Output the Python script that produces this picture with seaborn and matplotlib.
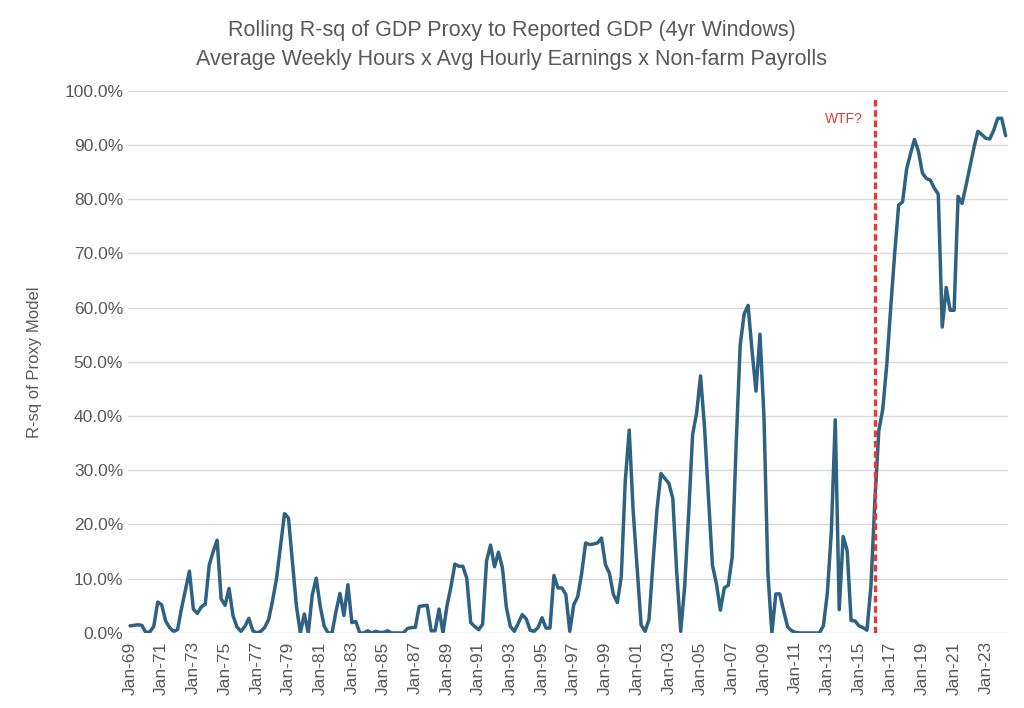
import numpy as np
import pandas as pd
import matplotlib
matplotlib.use("Agg")
import matplotlib.pyplot as plt
import seaborn as sns
from matplotlib.ticker import FuncFormatter

# ---- data: rolling R-sq (%) per quarter, Q1 1969 .. Q2 2024 ----
quarters = pd.date_range("1969-01-01", "2024-04-01", freq="QS")
rsq = [
    1.3, 1.4, 1.5, 1.4, 0.1, 0.2, 1.2, 5.7, 5.2, 2.2,   # 1969-71
    1.0, 0.3, 0.6, 4.5, 8.0, 11.4, 4.4, 3.6, 4.8, 5.3,  # 1971-73
    12.5, 15.0, 17.1, 6.3, 5.1, 8.2, 3.2, 1.1, 0.3, 1.2,
    2.7, 0.4, 0.0, 0.3, 1.0, 2.5, 6.0, 10.1, 16.0, 22.0,
    21.2, 13.0, 5.0, 0.0, 3.5, 0.0, 7.0, 10.1, 5.0, 1.3,
    0.0, 0.0, 4.0, 7.3, 3.2, 8.9, 1.9, 2.1, 0.0, 0.0,
    0.4, 0.0, 0.3, 0.1, 0.1, 0.4, 0.0, 0.0, 0.0, 0.0,
    0.8, 1.0, 1.0, 4.9, 5.0, 5.1, 0.4, 0.4, 4.4, 0.0,
    5.0, 8.5, 12.7, 12.3, 12.3, 10.1, 1.9, 1.2, 0.6, 1.6,
    13.3, 16.2, 12.2, 14.9, 12.0, 4.7, 1.2, 0.3, 1.8, 3.4,
    2.6, 0.5, 0.3, 1.0, 2.8, 0.9, 0.9, 10.6, 8.3, 8.3,
    7.1, 0.3, 5.2, 6.7, 11.0, 16.6, 16.3, 16.4, 16.6, 17.5,
    12.6, 11.0, 7.1, 5.6, 10.4, 28.0, 37.4, 22.4, 12.0, 1.5,
    0.3, 2.5, 13.0, 22.7, 29.4, 28.5, 27.6, 24.8, 11.0, 0.3,
    8.6, 22.0, 36.6, 40.5, 47.4, 38.0, 25.0, 12.5, 9.1, 4.2,
    8.3, 8.8, 14.1, 35.0, 53.0, 58.8, 60.4, 52.0, 44.6, 55.1,
    40.0, 11.0, 0.0, 7.2, 7.2, 4.0, 1.1, 0.4, 0.1, 0.0,
    0.0, 0.0, 0.0, 0.0, 0.0, 1.3, 7.3, 18.5, 39.3, 4.3,
    17.8, 15.2, 2.3, 2.2, 1.3, 1.0, 0.5, 8.6, 24.4, 37.3,
    41.3, 49.5, 60.0, 70.0, 78.9, 79.5, 85.5, 88.4, 91.0, 88.8,
    84.8, 83.8, 83.5, 82.0, 80.9, 56.4, 63.7, 59.5, 59.5, 80.5,
    79.2, 82.5, 86.0, 89.5, 92.5, 91.9, 91.2, 91.1, 92.7, 94.9,
    94.9, 91.7,
]
tick_labels = [d.strftime("%b-%y") for d in quarters]
marker_label = "Jan-16"

df = pd.DataFrame({"pos": np.arange(len(rsq)), "rsq": rsq, "label": tick_labels})

# ---- plot ----
sns.set_style("white")
plt.rcParams["font.family"] = ["Liberation Sans", "DejaVu Sans"]
grey = "#595959"

fig = plt.figure(figsize=(10.24, 7.08), dpi=100)
ax = fig.add_axes([0.125, 0.106, 0.859, 0.766])

sns.lineplot(data=df, x="pos", y="rsq", color="#2E6282", linewidth=2.5, ax=ax)

vpos = df.loc[df["label"] == marker_label, "pos"].iloc[0]
ax.axvline(vpos, ymin=0, ymax=0.99, color="#E53935", linestyle=(0, (2.0, 1.1)), linewidth=2.4)
ax.text(vpos - 3, 94.8, "WTF?", color="#E53935", fontsize=10, ha="right", va="center")

ax.set_ylim(0, 100)
ax.set_xlim(-0.5, len(rsq) - 0.5)
ax.set_yticks(np.arange(0, 101, 10))
ax.yaxis.set_major_formatter(FuncFormatter(lambda v, _: f"{v:.1f}%"))
ax.set_xticks(df["pos"][::8])
ax.set_xticklabels(df["label"][::8], rotation=90)
ax.tick_params(axis="both", length=0, labelcolor=grey, labelsize=12.5)
ax.tick_params(axis="x", pad=6)

ax.grid(axis="y", color="#D9D9D9", linewidth=1)
ax.set_axisbelow(True)
for s in ax.spines.values():
    s.set_visible(False)

ax.set_xlabel("")
ax.set_ylabel("R-sq of Proxy Model", color=grey, fontsize=12, labelpad=16)

fig.suptitle("Rolling R-sq of GDP Proxy to Reported GDP (4yr Windows)\n"
             "Average Weekly Hours x Avg Hourly Earnings x Non-farm Payrolls",
             y=0.972, fontsize=15.5, color=grey, linespacing=1.5,
             family=["Liberation Sans Narrow", "Liberation Sans", "DejaVu Sans"])

fig.savefig("out.png", dpi=100)
